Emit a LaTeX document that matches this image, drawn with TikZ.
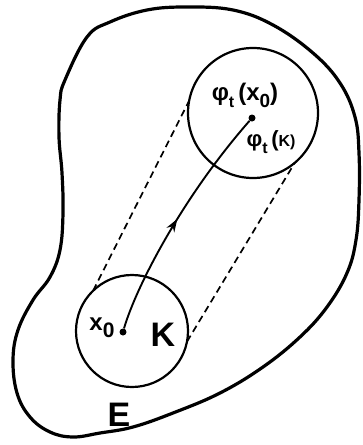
\documentclass[tikz,border=0pt]{standalone}
\usepackage{fontspec}
\setmainfont{Liberation Sans}
\usetikzlibrary{decorations.markings,arrows.meta}
\newcommand\lowsub[2][16]{\raisebox{-0.3em}{\fontsize{#1}{#1}\selectfont #2}}
\begin{document}
\begin{tikzpicture}[x=1pt,y=-1pt,
  blob/.style={line width=3.2pt},
  ring/.style={circle,draw,line width=2.2pt,inner sep=0pt,outer sep=0pt},
  guide/.style={line width=1.7pt,dash pattern=on 7pt off 4.5pt},
  flow/.style={line width=1.9pt,postaction={decorate},
    decoration={markings,mark=at position 0.5 with {\arrow{Stealth[length=13pt,width=9pt]}}}},
  dot/.style={circle,fill,inner sep=0pt,minimum size=7pt},
  lbl/.style={inner sep=0pt,font=\bfseries\fontsize{24}{26}\selectfont},
  big/.style={inner sep=0pt,font=\bfseries\fontsize{34}{36}\selectfont}]
\useasboundingbox (0,0) rectangle (362,445);
% outer region E
\draw[blob] plot[smooth cycle,tension=0.65] coordinates {
 (65,80) (87,37) (110,22) (147,10) (187,7) (233,10) (273,25) (313,53)
 (340,83) (355,117) (359,153) (359,200) (356,240) (347,273) (327,307)
 (300,337) (263,367) (220,393) (173,413) (133,427) (100,433) (73,437)
 (50,432) (30,417) (17,393) (13,360) (18,330) (33,300) (50,277)
 (60,250) (63,213) (62,173) (59,137) (60,100)};
% circles
\node[ring,minimum size=112pt] (K) at (132,331) {};
\node[ring,minimum size=130pt] (FK) at (253,113) {};
% points
\node[dot] (x0) at (123,332) {};
\node[dot] (fx0) at (252,118) {};
% dashed guides
\draw[guide] (K.134) -- (FK.169);
\draw[guide] (K.-11) -- (FK.-50);
% trajectory
\draw[flow] (x0) .. controls (135,290) and (180,200) .. (fx0);
% labels
\node[lbl] (lfx0) at (245,95) {φ\lowsub{t}\,(x\lowsub[19]{0})};
\node[lbl,font=\bfseries\fontsize{22}{24}\selectfont] (lfK) at (271,142) {φ\lowsub{t}\,(\fontsize{16}{16}\selectfont K)};
\node[lbl] (lx0) at (102,328) {x\lowsub[21]{0}};
\node[big] (lK) at (163,335) {K};
\node[big] (lE) at (119,415) {E};
\end{tikzpicture}
\end{document}
